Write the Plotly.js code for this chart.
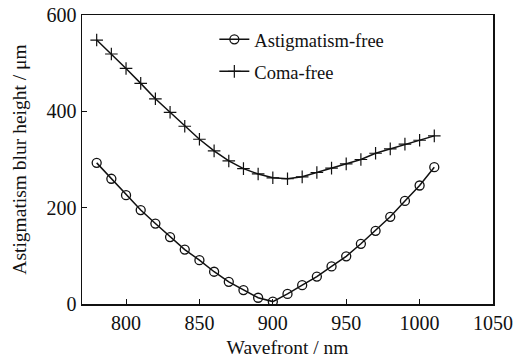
<!DOCTYPE html>
<html><head><meta charset="utf-8">
<script src="https://cdn.plot.ly/plotly-3.0.1.min.js"></script>
<style>html,body{margin:0;padding:0;background:#fff}</style>
</head><body>
<div id="chart" style="width:518px;height:360px"></div>
<script>
const wavelength = [780,790,800,810,820,830,840,850,860,870,880,890,900,910,920,930,940,950,960,970,980,990,1000,1010];
const astigmatismFree = [293,260,226,195,167,139,113,91,67,46,29,13,5,21,39,57,78,99,125,152,181,214,246,284];
const comaFree = [548,519,489,458,426,398,369,342,318,297,281,270,262,260,264,273,282,291,300,313,322,332,340,349];
const xTicks = [800,850,900,950,1000,1050];
const yTicks = [0,200,400,600];

const fam = '"Liberation Serif", "Times New Roman", serif';
const tickFont = {family:fam, size:20, color:'#111'};
const titleFont = {family:fam, size:19.5, color:'#111'};
const legendFont = {family:fam, size:18.5, color:'#111'};
const traces = [
  {x:wavelength, y:astigmatismFree, name:'Astigmatism-free', mode:'lines+markers', legendgroup:'a',
   line:{color:'#111', width:1.5},
   marker:{symbol:'circle-open', size:9, color:'#111', line:{width:1.3, color:'#111'}}},
  {x:wavelength, y:comaFree, name:'Coma-free', mode:'lines+markers', legendgroup:'c',
   line:{color:'#111', width:1.5},
   marker:{symbol:'cross-thin-open', size:9, color:'#111', line:{width:1.2, color:'#111'}}}
];
const layout = {
  width:518, height:360,
  margin:{l:82, r:25, t:15, b:56},
  paper_bgcolor:'#fff', plot_bgcolor:'#fff',
  font:tickFont,
  showlegend:true,
  legend:{x:0.322, y:0.98, xanchor:'left', yanchor:'top', bgcolor:'rgba(0,0,0,0)', font:legendFont, tracegroupgap:5},
  xaxis:{range:[770,1050], tickvals:xTicks, ticks:'inside', ticklen:5, tickcolor:'#111', tickfont:tickFont,
    showline:true, mirror:true, linecolor:'#111', linewidth:1.5, showgrid:false, zeroline:false,
    title:{text:'Wavefront / nm', font:titleFont, standoff:8}},
  yaxis:{range:[0,600], tickvals:yTicks, ticks:'inside', ticklen:5, tickcolor:'#111', tickfont:tickFont,
    showline:true, mirror:true, linecolor:'#111', linewidth:1.5, showgrid:false, zeroline:false,
    title:{text:'Astigmatism blur height / μm', font:titleFont, standoff:14}}
};
Plotly.newPlot('chart', traces, layout, {displayModeBar:false, staticPlot:true});
</script>
</body></html>
